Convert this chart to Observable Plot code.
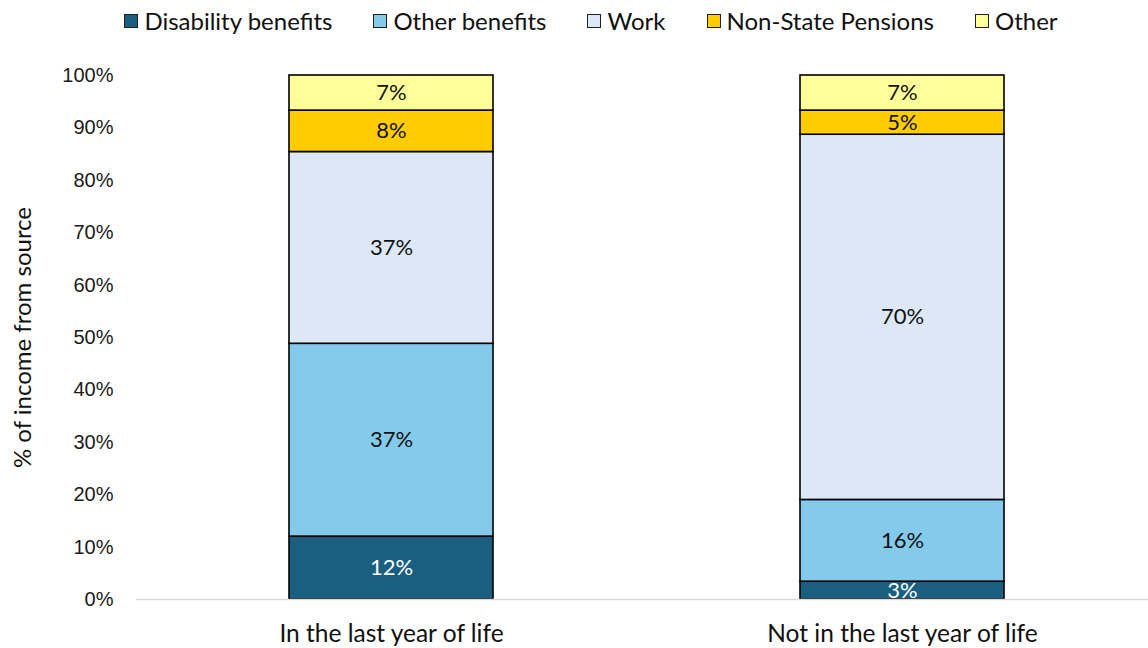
<!DOCTYPE html>
<html>
<head>
<meta charset="utf-8">
<script src="https://cdn.jsdelivr.net/npm/d3@7"></script>
<script src="https://cdn.jsdelivr.net/npm/@observablehq/plot@0.6"></script>
<style>
  html, body { margin: 0; padding: 0; background: #fff; }
  #wrap { width: 1148px; height: 648px; position: relative; overflow: hidden; }
  #legend { height: 45px; display: flex; justify-content: center; align-items: center; gap: 41px;
    padding-left: 34px; padding-bottom: 4px; box-sizing: border-box; font-family: Lato, "Open Sans", sans-serif; font-size: 24px; color: #111; }
  .item { display: flex; align-items: center; gap: 6px; }
  .sw { width: 14px; height: 14px; border: 1.5px solid #222; box-sizing: border-box; }
  svg { display: block; }
</style>
</head>
<body>
<div id="wrap">
  <div id="legend"></div>
  <div id="chart"></div>
</div>
<script>
const categories = ["In the last year of life", "Not in the last year of life"];
const sources = ["Disability benefits", "Other benefits", "Work", "Non-State Pensions", "Other"];
const colors = ["#1a5e80", "#84caeb", "#dce8f5", "#ffcc00", "#ffff99"];
const lastYear = [12.0, 36.8, 36.6, 7.9, 6.7];
const notLastYear = [3.4, 15.6, 69.7, 4.6, 6.7];
const labelsLastYear = ["12%", "37%", "37%", "8%", "7%"];
const labelsNotLastYear = ["3%", "16%", "70%", "5%", "7%"];
const yTicks = [0, 10, 20, 30, 40, 50, 60, 70, 80, 90, 100];

const rows = [];
sources.forEach((s, i) => rows.push({cat: categories[0], source: s, value: lastYear[i], label: labelsLastYear[i]}));
sources.forEach((s, i) => rows.push({cat: categories[1], source: s, value: notLastYear[i], label: labelsNotLastYear[i]}));

// legend
const legend = document.getElementById("legend");
sources.forEach((s, i) => {
  const it = document.createElement("div");
  it.className = "item";
  const sw = document.createElement("div");
  sw.className = "sw";
  sw.style.background = colors[i];
  const t = document.createElement("span");
  t.textContent = s;
  it.appendChild(sw); it.appendChild(t);
  legend.appendChild(it);
});

const calibri = "Lato, 'Open Sans', sans-serif";

const chart = Plot.plot({
  width: 1148,
  height: 603,
  marginLeft: 136,
  marginRight: 0,
  marginTop: 30,
  marginBottom: 49,
  style: {background: "#fff", fontFamily: "'Liberation Sans', Arial, sans-serif"},
  x: {domain: categories, range: [136, 1158], paddingInner: 0.6, paddingOuter: 0.3, axis: null},
  y: {domain: [0, 100]},
  color: {domain: sources, range: colors},
  marks: [
    Plot.axisY({ticks: yTicks, tickSize: 0, tickPadding: 23, tickFormat: d => d + "%", fontSize: 20,
      fill: "#1a1a1a", label: "% of income from source", labelAnchor: "center", labelArrow: "none", labelOffset: 123}),
    Plot.axisX({tickSize: 0, tickPadding: 25, fontSize: 24.5, fontFamily: calibri, fill: "#111", label: null}),
    Plot.barY(rows, Plot.stackY({x: "cat", y: "value", fill: "source", stroke: "#000", strokeWidth: 1.6})),
    Plot.ruleY([0], {stroke: "#d9d9d9", strokeWidth: 1.5}),
    Plot.text(rows, Plot.stackY({x: "cat", y: "value", z: "source",
      text: d => d.source !== sources[0] ? d.label : "",
      fill: "#111", fontSize: 22, fontFamily: calibri})),
    Plot.text(rows, Plot.stackY({x: "cat", y: "value", z: "source",
      text: d => d.source === sources[0] ? d.label : "",
      fill: "#fff", fontSize: 22, fontFamily: calibri}))
  ]
});
document.getElementById("chart").appendChild(chart);
const lab = chart.querySelector('[aria-label="y-axis label"]');
if (lab) { lab.setAttribute("font-size", 24); lab.style.fontFamily = calibri; lab.setAttribute("fill", "#111"); }
</script>
</body>
</html>
